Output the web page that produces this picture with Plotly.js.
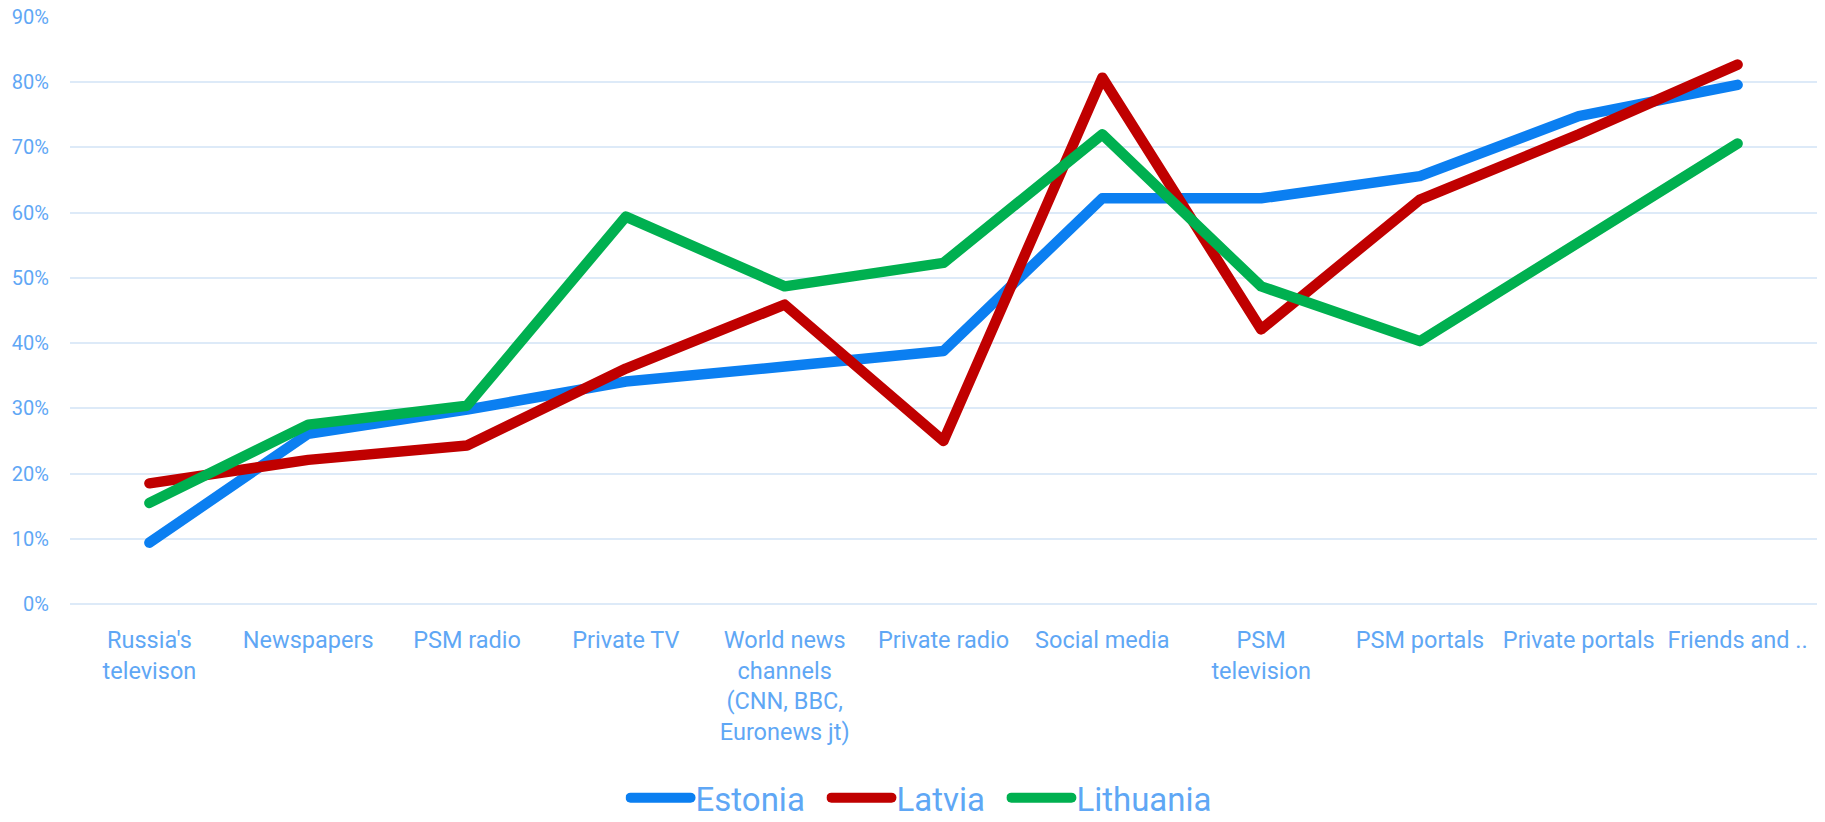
<!DOCTYPE html>
<html>
<head>
<meta charset="utf-8">
<script src="https://cdn.plot.ly/plotly-3.0.1.min.js"></script>
<style>
  html, body { margin: 0; padding: 0; background: #fff; }
  #chart { width: 1825px; height: 822px; }
  .scatterlayer path.js-line, .legendlines path { stroke-linecap: round; stroke-linejoin: round; }
</style>
</head>
<body>
<div id="chart"></div>
<script>
const categories = [
  "Russia's<br>televison",
  "Newspapers",
  "PSM radio",
  "Private TV",
  "World news<br>channels<br>(CNN, BBC,<br>Euronews jt)",
  "Private radio",
  "Social media",
  "PSM<br>television",
  "PSM portals",
  "Private portals",
  "Friends and .."
];

const estonia   = [0.094, 0.261, 0.298, 0.341, 0.364, 0.388, 0.622, 0.622, 0.656, 0.748, 0.796];
const latvia    = [0.185, 0.221, 0.243, 0.361, 0.459, 0.250, 0.807, 0.421, 0.620, 0.720, 0.827];
const lithuania = [0.155, 0.275, 0.304, 0.594, 0.487, 0.523, 0.720, 0.487, 0.403, 0.553, 0.706];

const seriesNames = ["Estonia", "Latvia", "Lithuania"];
const yTickVals = [0, 0.1, 0.2, 0.3, 0.4, 0.5, 0.6, 0.7, 0.8, 0.9];

const textColor = "#5FA7F5";
const gridColor = "#DDEAF8";
const fontFamily = "Roboto, 'Open Sans', sans-serif";

const colors = ["#0B7FF1", "#C00000", "#00B050"];
const legendIds = ["legend", "legend2", "legend3"];
const legendX = [0.318, 0.433, 0.536];
const xIdx = categories.map((_, i) => i);

const traces = [estonia, latvia, lithuania].map((vals, k) => ({
  type: "scatter",
  mode: "lines",
  name: seriesNames[k],
  legend: legendIds[k],
  x: xIdx,
  y: vals,
  line: { color: colors[k], width: 10.5 },
  hoverinfo: "skip"
}));

function legendStyle(x) {
  return {
    orientation: "h",
    x: x, xanchor: "left",
    y: -0.33, yanchor: "middle",
    font: { size: 33, color: textColor, family: fontFamily },
    itemwidth: 60,
    bgcolor: "rgba(0,0,0,0)",
    borderwidth: 0
  };
}

const layout = {
  width: 1825,
  height: 822,
  paper_bgcolor: "#ffffff",
  plot_bgcolor: "#ffffff",
  margin: { l: 70, r: 8, t: 17, b: 218, autoexpand: false },
  font: { family: fontFamily, color: textColor },
  showlegend: true,
  legend: legendStyle(legendX[0]),
  legend2: legendStyle(legendX[1]),
  legend3: legendStyle(legendX[2]),
  xaxis: {
    type: "linear",
    range: [-0.5, 10.5],
    tickmode: "array",
    tickvals: xIdx,
    ticktext: categories,
    showgrid: false,
    zeroline: false,
    showline: false,
    ticks: "outside",
    ticklen: 15,
    tickcolor: "rgba(0,0,0,0)",
    tickfont: { size: 23.5, color: textColor, family: fontFamily },
    fixedrange: true
  },
  yaxis: {
    range: [0, 0.9],
    tickmode: "array",
    tickvals: yTickVals,
    tickformat: ".0%",
    showgrid: true,
    gridcolor: gridColor,
    gridwidth: 2,
    zeroline: true,
    zerolinecolor: gridColor,
    zerolinewidth: 2,
    showline: false,
    ticks: "outside",
    ticklen: 16,
    tickcolor: "rgba(0,0,0,0)",
    tickfont: { size: 20, color: textColor, family: fontFamily },
    fixedrange: true
  }
};

Plotly.newPlot("chart", traces, layout, { staticPlot: true, displayModeBar: false });
</script>
</body>
</html>
